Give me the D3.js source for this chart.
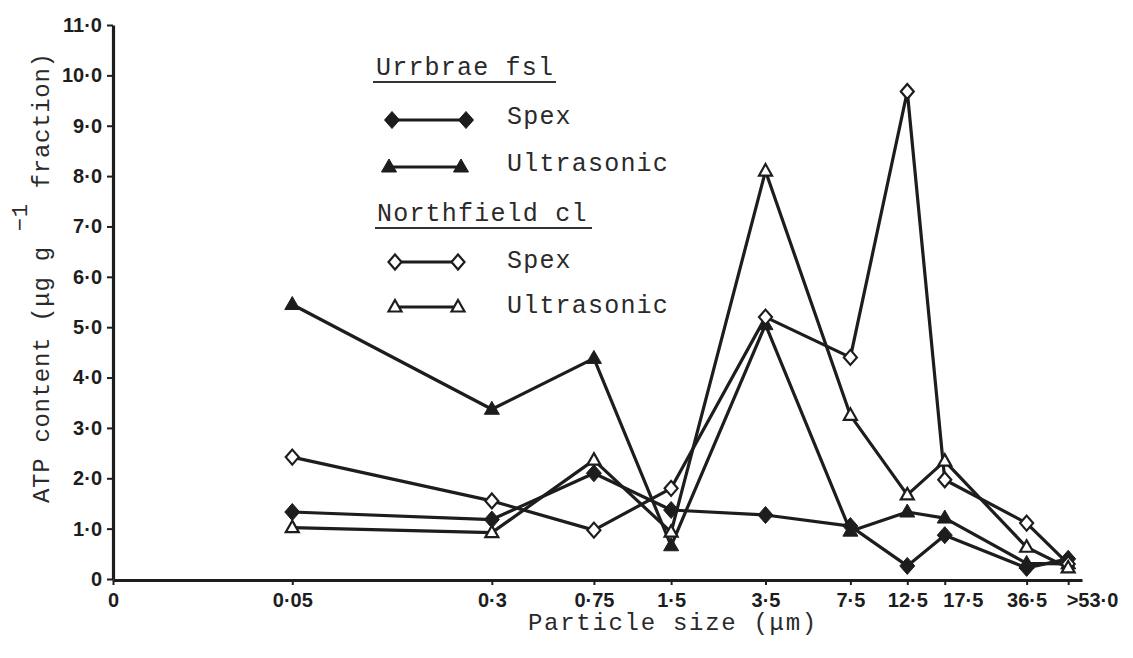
<!DOCTYPE html>
<html>
<head>
<meta charset="utf-8">
<script src="https://cdn.jsdelivr.net/npm/d3@7"></script>
<style>
  html, body { margin: 0; padding: 0; background: #fff; }
  svg { display: block; }
</style>
</head>
<body>
<svg id="chart" width="1133" height="658"></svg>
<script>
// Particle-size fractions (µm), plotted on a log axis
const sizes = [0.05, 0.3, 0.75, 1.5, 3.5, 7.5, 12.5, 17.5, 36.5, 53];
const sizeLabels = ["0·05", "0·3", "0·75", "1·5", "3·5", "7·5", "12·5", "17·5", "36·5", ">53·0"];
const originValue = 0.01;
const originLabel = "0";

// ATP content axis ticks
const yTicks = [0, 1, 2, 3, 4, 5, 6, 7, 8, 9, 10, 11];
const yTickLabels = ["0", "1·0", "2·0", "3·0", "4·0", "5·0", "6·0", "7·0", "8·0", "9·0", "10·0", "11·0"];

// ATP content (µg g-1 fraction) per size fraction
const urrbraeSpex          = [1.33, 1.18, 2.10, 1.37, 1.27, 1.05, 0.26, 0.87, 0.22, 0.40];
const urrbraeUltrasonic    = [5.45, 3.37, 4.38, 0.66, 5.05, 0.95, 1.33, 1.21, 0.31, 0.30];
const northfieldSpex       = [2.42, 1.55, 0.97, 1.80, 5.20, 4.40, 9.68, 1.97, 1.11, 0.30];
const northfieldUltrasonic = [1.02, 0.92, 2.36, 0.93, 8.10, 3.25, 1.67, 2.34, 0.63, 0.22];

const soils = ["Urrbrae fsl", "Northfield cl"];
const methods = ["Spex", "Ultrasonic"];

const series = [
  { soil: 0, method: 0, values: urrbraeSpex,          shape: "diamond",  filled: true  },
  { soil: 0, method: 1, values: urrbraeUltrasonic,    shape: "triangle", filled: true  },
  { soil: 1, method: 0, values: northfieldSpex,       shape: "diamond",  filled: false },
  { soil: 1, method: 1, values: northfieldUltrasonic, shape: "triangle", filled: false }
];

const W = 1133, H = 658;
const ink = "#1d1d1d";
const tickFont = '"Liberation Sans", Arial, sans-serif';
const typeFont = '"Liberation Mono", "Courier New", monospace';

const svg = d3.select("#chart");
svg.append("rect").attr("width", W).attr("height", H).attr("fill", "#fff");

const x = d3.scaleLog().domain([originValue, 60]).range([113, 1082]);
const y = d3.scaleLinear().domain([0, 11]).range([579, 25]);

// marker outlines centred on the data point
function markerPath(shape, filled) {
  if (shape === "diamond") {
    const w = filled ? 7.5 : 6.5, h = filled ? 8.5 : 7.5;
    return `M0,${-h}L${w},0L0,${h}L${-w},0Z`;
  }
  const w = filled ? 7.5 : 6.5, top = filled ? -8 : -7, base = filled ? 5 : 4.5;
  return `M0,${top}L${w},${base}L${-w},${base}Z`;
}

function drawMarker(g, s, cx, cy) {
  g.append("path")
    .attr("d", markerPath(s.shape, s.filled))
    .attr("transform", `translate(${cx},${cy})`)
    .attr("fill", s.filled ? ink : "#fff")
    .attr("stroke", ink)
    .attr("stroke-width", s.filled ? 1 : 2.2)
    .attr("stroke-linejoin", "miter");
}

// axes
const yAxis = svg.append("g")
  .attr("transform", "translate(113,0)")
  .call(d3.axisLeft(y)
    .tickValues(yTicks)
    .tickFormat((d, i) => yTickLabels[i])
    .tickSize(6).tickSizeOuter(0).tickPadding(5));

const xAxis = svg.append("g")
  .attr("transform", "translate(0,580)")
  .call(d3.axisBottom(x)
    .tickValues([originValue, ...sizes])
    .tickFormat((d, i) => i === 0 ? originLabel : sizeLabels[i - 1])
    .tickSize(5).tickSizeOuter(0).tickPadding(8));

[yAxis, xAxis].forEach(ax => {
  ax.attr("font-size", null).attr("font-family", null);
  ax.select(".domain").attr("stroke", ink).attr("stroke-width", 3.2);
  ax.selectAll(".tick line").attr("stroke", ink).attr("stroke-width", 2);
  ax.selectAll(".tick text")
    .attr("fill", ink)
    .attr("font-family", tickFont)
    .attr("font-weight", "bold")
    .attr("font-size", 20);
});

// crowded labels at the coarse end start at their tick instead of centring on it
const startAnchored = new Set(["17·5", ">53·0"]);
xAxis.selectAll(".tick text")
  .attr("text-anchor", t => startAnchored.has(sizeLabels[sizes.indexOf(t)]) ? "start" : "middle")
  .attr("dx", t => startAnchored.has(sizeLabels[sizes.indexOf(t)]) ? -2 : 0);

// data lines
const line = d3.line().x((d, i) => x(sizes[i])).y(d => y(d));
const lines = svg.append("g");
series.forEach(s => {
  lines.append("path")
    .datum(s.values)
    .attr("d", line)
    .attr("fill", "none")
    .attr("stroke", ink)
    .attr("stroke-width", 3.2)
    .attr("stroke-linejoin", "round");
});

// data markers
const marks = svg.append("g");
series.forEach(s => {
  s.values.forEach((v, i) => drawMarker(marks, s, x(sizes[i]), y(v)));
});

// axis titles
const titleStyle = sel => sel
  .attr("fill", "#2a2a2a")
  .style("font-family", typeFont)
  .style("font-size", "24px")
  .style("letter-spacing", "1.2px");

svg.append("text")
  .attr("x", 528).attr("y", 630)
  .call(titleStyle)
  .style("letter-spacing", "1.7px")
  .text("Particle size (μm)");

const yTitle = svg.append("text")
  .attr("transform", "translate(49,503) rotate(-90)")
  .call(titleStyle)
  .style("letter-spacing", "0.7px");
yTitle.append("tspan").text("ATP content (μg g ");
yTitle.append("tspan").attr("dy", -22).style("font-size", "22px").text("−1");
yTitle.append("tspan").attr("dy", 22).text(" fraction)");

// legend
const legend = svg.append("g");
const headers = [
  { soil: 0, x: 376, y: 75, ux1: 373, ux2: 556, uy: 82 },
  { soil: 1, x: 377, y: 221, ux1: 375, ux2: 592, uy: 228 }
];
headers.forEach(h => {
  legend.append("text").attr("x", h.x).attr("y", h.y).call(titleStyle).style("font-size", "25px").text(soils[h.soil]);
  legend.append("line")
    .attr("x1", h.ux1).attr("x2", h.ux2).attr("y1", h.uy).attr("y2", h.uy)
    .attr("stroke", "#333").attr("stroke-width", 2);
});

const legendRows = [
  { s: series[0], x1: 392, x2: 466, y: 120, ty: 124 },
  { s: series[1], x1: 389, x2: 461, y: 167, ty: 171 },
  { s: series[2], x1: 395, x2: 458, y: 262, ty: 268 },
  { s: series[3], x1: 395, x2: 458, y: 307, ty: 313 }
];
legendRows.forEach(r => {
  legend.append("line")
    .attr("x1", r.x1).attr("x2", r.x2).attr("y1", r.y).attr("y2", r.y)
    .attr("stroke", ink).attr("stroke-width", 3.2);
  drawMarker(legend, r.s, r.x1, r.y);
  drawMarker(legend, r.s, r.x2, r.y);
  legend.append("text").attr("x", 507).attr("y", r.ty)
    .call(titleStyle).style("font-size", "25px")
    .text(methods[r.s.method]);
});
</script>
</body>
</html>
